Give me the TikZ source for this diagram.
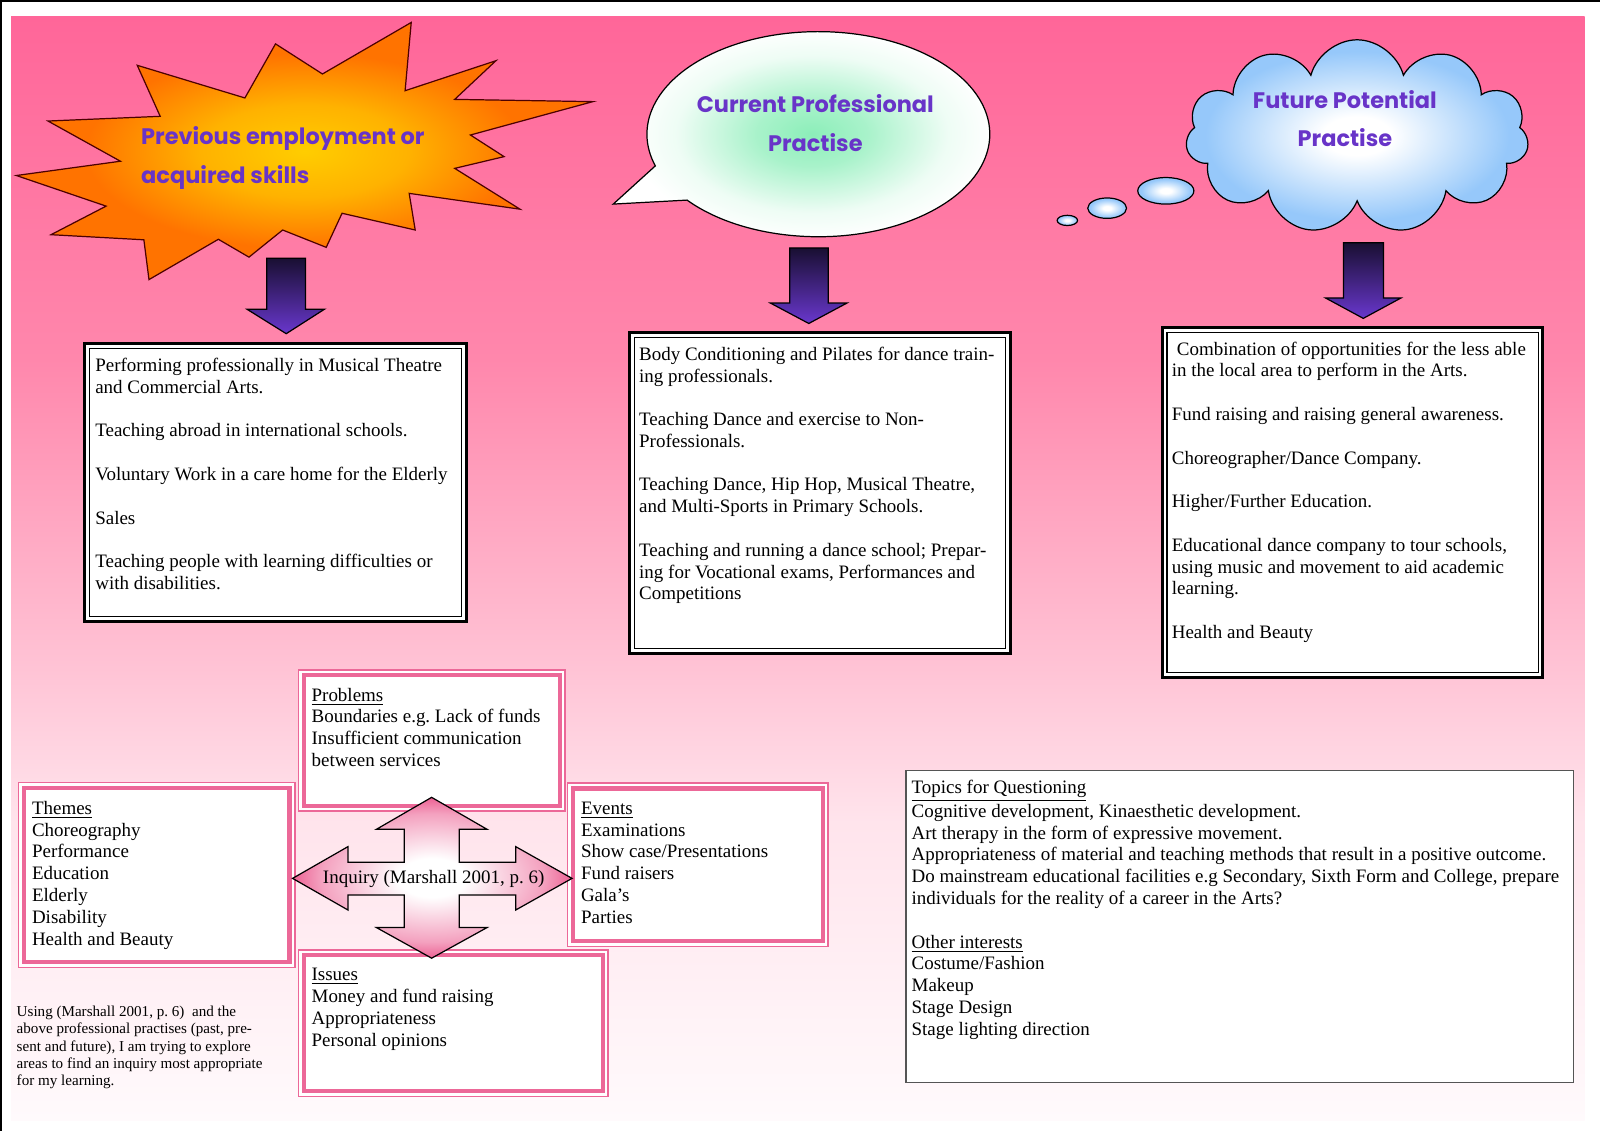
\documentclass[tikz,border=0pt]{standalone}
\usepackage{fontspec}
\setmainfont{Liberation Serif}
\newfontfamily\decofont{Poppins}
\usetikzlibrary{shapes.symbols,shapes.geometric}
\frenchspacing
\definecolor{bgT}{RGB}{255,102,153}
\definecolor{bgA}{RGB}{255,135,172}
\definecolor{bgB}{RGB}{255,195,213}
\definecolor{bgC}{RGB}{255,228,236}
\definecolor{bgD}{RGB}{255,250,252}
\definecolor{headc}{RGB}{104,52,200}
\definecolor{burstY}{RGB}{255,205,0}
\definecolor{burstO}{RGB}{255,115,0}
\definecolor{mint}{RGB}{140,238,185}
\definecolor{cloudb}{RGB}{150,200,250}
\definecolor{arrTop}{RGB}{25,15,50}
\definecolor{arrBot}{RGB}{105,55,205}
\definecolor{pinkb}{RGB}{236,104,152}
\definecolor{quadP}{RGB}{236,98,148}
\definecolor{topicgray}{RGB}{85,85,85}
\pgfdeclareverticalshading{bgshade}{100bp}{color(0bp)=(bgD); color(25bp)=(bgD); color(38.5bp)=(bgC); color(45.5bp)=(bgB); color(59.5bp)=(bgA); color(75bp)=(bgT); color(100bp)=(bgT)}
\pgfdeclareradialshading{burstshade}{\pgfpoint{0bp}{0bp}}{color(0bp)=(burstY); color(9bp)=(burstY!70!burstO); color(19bp)=(burstO); color(50bp)=(burstO)}
\pgfdeclareradialshading{bubbleshade}{\pgfpoint{0bp}{0bp}}{color(0bp)=(mint); color(7bp)=(mint!75!white); color(17bp)=(mint!15!white); color(23bp)=(white); color(50bp)=(white)}
\pgfdeclareradialshading{cloudshade}{\pgfpoint{0bp}{0bp}}{color(0bp)=(white); color(5bp)=(white); color(22bp)=(cloudb); color(50bp)=(cloudb)}
\pgfdeclareradialshading{quadshade}{\pgfpoint{0bp}{0bp}}{color(0bp)=(white); color(6bp)=(white); color(20bp)=(quadP!60!white); color(25bp)=(quadP); color(50bp)=(quadP)}
\newcommand{\txtlines}[1]{\begin{tabular}[t]{@{}l@{}}#1\end{tabular}}
\newcommand{\ctrlines}[1]{\begin{tabular}[t]{@{}c@{}}#1\end{tabular}}
\newcommand{\innerrect}[4]{\draw[#4, line width=#3] ([xshift=#2,yshift=-#2]#1.north west) rectangle ([xshift=-#2,yshift=#2]#1.south east);}
\begin{document}
\begin{tikzpicture}[x=0.5pt,y=-0.5pt,
  body/.style={font=\fontsize{9.3}{10.68}\selectfont, inner sep=0pt, anchor=base west},
  smalltxt/.style={font=\fontsize{7.4}{8.5}\selectfont, inner sep=0pt, anchor=base west},
  deco/.style={font=\decofont\bfseries\fontsize{11}{19}\selectfont, text=headc, inner sep=0pt},
  blackbox/.style={draw=black, line width=1.5pt, fill=white, inner sep=0pt, outer sep=0pt, anchor=north west},
  pinkbox/.style={draw=pinkb, line width=0.8pt, fill=white, inner sep=0pt, outer sep=0pt, anchor=north west},
  downarrow/.style={draw=black, line width=0.6pt, top color=arrTop, bottom color=arrBot},
  thought/.style={ellipse, draw=black, line width=0.6pt, shading=cloudshade, inner sep=0pt}
]
\useasboundingbox (0,0) rectangle (1568,1108);
\fill[white] (0,0) rectangle (1568,1108);
% background
\path[shading=bgshade] (11,16) rectangle (1553,1098);
\draw[line width=0.9pt] (0.8,1108) -- (0.8,0.8) -- (1568,0.8);

% starburst
\path[draw=black!70!red, line width=0.6pt, shading=burstshade]
 (403,22) -- (316,72.5) -- (270,43) -- (240,96) -- (134.5,64) -- (157,114) -- (47,118.6) -- (118,158) -- (16,172) -- (104,202) -- (50,230) -- (141,235) -- (146,274) -- (214,234.5) -- (244,252) -- (277,225.4) -- (319.7,242.4) -- (335.2,209) -- (406.9,225.4) -- (401,189.5) -- (509.6,205) -- (445.6,165) -- (494,153.5) -- (461,132.3) -- (581,99.6) -- (445.6,97.4) -- (486,59.5) -- (397,88.9) -- cycle;
\node[deco, anchor=base west] (tprev) at (138,142) {\txtlines{Previous employment or\\acquired skills}};

% speech bubble
\path[draw=black, line width=0.6pt, shading=bubbleshade]
 (601,200) -- (673.3,196.1) arc[start angle=140, end angle=-198, x radius=168, y radius=100.5] -- cycle;
\node[deco, anchor=base] (tcur) at (799,110) {\ctrlines{Current Professional\\Practise}};

% cloud
\node[cloud, cloud puffs=11, cloud ignores aspect, minimum width=168pt, minimum height=95pt, draw=black, line width=0.6pt, shading=cloudshade] (fcloud) at (1330,134) {};
\node[thought, minimum width=27.5pt, minimum height=13pt] (th1) at (1142.5,187) {};
\node[thought, minimum width=19pt, minimum height=10pt] (th2) at (1085,204) {};
\node[thought, minimum width=10pt, minimum height=5pt] (th3) at (1046,216) {};
\node[deco, anchor=base] (tfut) at (1318,106) {\ctrlines{Future Potential\\Practise}};

% down arrows
\path[downarrow] (261.5,253) -- (299.4,253) -- (299.4,303) -- (318,303) -- (280.5,327) -- (242,303) -- (261.5,303) -- cycle;
\path[downarrow] (774,243) -- (811.7,243) -- (811.7,297) -- (830,297) -- (792.6,317) -- (755,297) -- (774,297) -- cycle;
\path[downarrow] (1316.7,238) -- (1355.9,238) -- (1355.9,292) -- (1373,292) -- (1336,312) -- (1299,292) -- (1316.7,292) -- cycle;

% top boxes
\node[blackbox, minimum width=187pt, minimum height=136pt] (b1) at (83,337) {};
\innerrect{b1}{2.3pt}{0.6pt}{black}
\node[body] (b1t) at (93,364) {\txtlines{Performing professionally in Musical Theatre\\
and Commercial Arts.\\ \\
Teaching abroad in international schools.\\ \\
Voluntary Work in a care home for the Elderly\\ \\
Sales\\ \\
Teaching people with learning difficulties or\\
with disabilities.}};

\node[blackbox, minimum width=186.5pt, minimum height=157pt] (b2) at (617,326) {};
\innerrect{b2}{2.3pt}{0.6pt}{black}
\node[body] (b2t) at (626,353) {\txtlines{Body Conditioning and Pilates for dance train-\\
ing professionals.\\ \\
Teaching Dance and exercise to Non-\\
Professionals.\\ \\
Teaching Dance, Hip Hop, Musical Theatre,\\
and Multi-Sports in Primary Schools.\\ \\
Teaching and running a dance school; Prepar-\\
ing for Vocational exams, Performances and\\
Competitions}};

\node[blackbox, minimum width=186.5pt, minimum height=171.5pt] (b3) at (1139,321) {};
\innerrect{b3}{2.3pt}{0.6pt}{black}
\node[body] (b3t) at (1148,348) {\txtlines{\hspace{2.5pt}Combination of opportunities for the less able\\
in the local area to perform in the Arts.\\ \\
Fund raising and raising general awareness.\\ \\
Choreographer/Dance Company.\\ \\
Higher/Further Education.\\ \\
Educational dance company to tour schools,\\
using music and movement to aid academic\\
learning.\\ \\
Health and Beauty}};

% pink boxes
\node[pinkbox, minimum width=135.5pt, minimum height=90.5pt] (themes) at (18,767) {};
\innerrect{themes}{2.6pt}{2.1pt}{pinkb}
\node[body] (themest) at (31,798) {\txtlines{\underline{Themes}\\ Choreography\\ Performance\\ Education\\ Elderly\\ Disability\\ Health and Beauty}};

\node[pinkbox, minimum width=130.7pt, minimum height=69.2pt] (problems) at (292.6,656.6) {};
\innerrect{problems}{2.6pt}{2.1pt}{pinkb}
\node[body] (problemst) at (305,687) {\txtlines{\underline{Problems}\\ Boundaries e.g. Lack of funds\\ Insufficient communication\\ between services}};

\node[pinkbox, minimum width=127.8pt, minimum height=80pt] (events) at (556,767.6) {};
\innerrect{events}{2.6pt}{2.1pt}{pinkb}
\node[body] (eventst) at (569,798) {\txtlines{\underline{Events}\\ Examinations\\ Show case/Presentations\\ Fund raisers\\ Gala’s\\ Parties}};

\node[pinkbox, minimum width=151.75pt, minimum height=71.85pt] (issues) at (292.5,931) {};
\innerrect{issues}{2.6pt}{2.1pt}{pinkb}
\node[body] (issuest) at (305,961) {\txtlines{\underline{Issues}\\ Money and fund raising\\ Appropriateness\\ Personal opinions}};

% quad arrow
\path[draw=black, line width=0.6pt, shading=quadshade]
 (423,781.4) -- (477.3,812.7) -- (450,812.7) -- (450,845) -- (505.4,845) -- (505.4,829.7) -- (560.6,860.8) -- (505.4,891.8) -- (505.4,877) -- (450,877) -- (450,909) -- (477.3,909) -- (423,939) -- (368.9,909) -- (396.2,909) -- (396.2,877) -- (341,877) -- (341,891.8) -- (286.7,860.8) -- (341,829.7) -- (341,845) -- (396.2,845) -- (396.2,812.7) -- (368.9,812.7) -- cycle;
\node[body, anchor=center] (inq) at (425,861) {Inquiry (Marshall 2001, p. 6)};

% small note
\node[smalltxt] (note) at (16,996) {\txtlines{Using (Marshall 2001, p. 6)\ \ and the\\
above professional practises (past, pre-\\
sent and future), I am trying to explore\\
areas to find an inquiry most appropriate\\
for my learning.}};

% topics box
\node[draw=topicgray, line width=0.8pt, fill=white, inner sep=0pt, outer sep=0pt, anchor=north west, minimum width=327pt, minimum height=153pt] (topics) at (888,755) {};
\node[body] (topicst) at (893,778) {\txtlines{\underline{Topics for Questioning}\\
Cognitive development, Kinaesthetic development.\\
Art therapy in the form of expressive movement.\\
Appropriateness of material and teaching methods that result in a positive outcome.\\
Do mainstream educational facilities e.g Secondary, Sixth Form and College, prepare\\
individuals for the reality of a career in the Arts?\\ \\
\underline{Other interests}\\
Costume/Fashion\\
Makeup\\
Stage Design\\
Stage lighting direction}};
\end{tikzpicture}
\end{document}
